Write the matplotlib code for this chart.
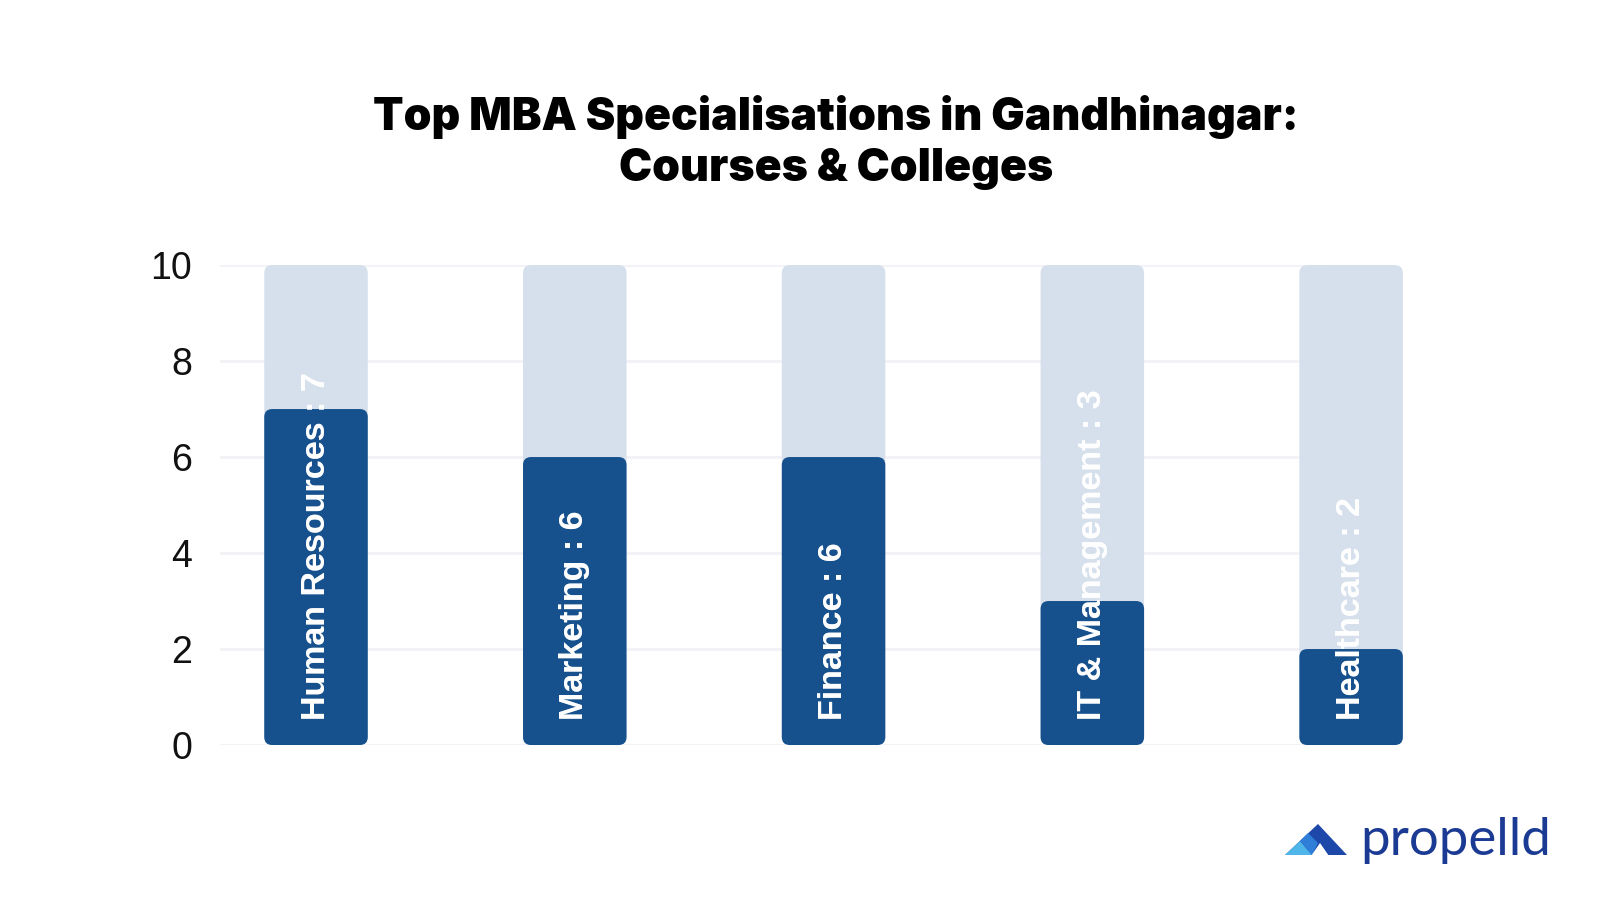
import matplotlib
matplotlib.use("Agg")
import matplotlib.pyplot as plt
from matplotlib.patches import FancyBboxPatch, Polygon

categories = ["Human Resources", "Marketing", "Finance", "IT & Management", "Healthcare"]
values = [7, 6, 6, 3, 2]
max_value = 10
yticks = [0, 2, 4, 6, 8, 10]

DARK = "#16518d"
LIGHT = "#d5e0ec"
GRID = "#f2f2f7"

fig = plt.figure(figsize=(16, 9), dpi=100)
fig.patch.set_facecolor("white")
ax = fig.add_axes([0.1375, 0.1722, 0.694, 0.5333])
ax.set_facecolor("none")

x = list(range(len(categories)))
bw = 0.40
ax.set_xlim(-0.371, 3.92)
ax.set_ylim(0, 10)

for y in yticks:
    ax.axhline(y, color=GRID, lw=2, zorder=0)

bg = ax.bar(x, [max_value] * len(x), width=bw, color=LIGHT)
fg = ax.bar(x, values, width=bw, color=DARK)

ax_w_px = 0.694 * 1600
ax_h_px = 0.5333 * 900
px_x = ax_w_px / (3.92 + 0.371)
px_y = ax_h_px / 10.0
aspect = px_x / px_y
r = 8 / px_x

def rounded(rect, color, z):
    rect.set_visible(False)
    p = FancyBboxPatch((rect.get_x(), rect.get_y()), rect.get_width(), rect.get_height(),
                       boxstyle=f"round,pad=0,rounding_size={r}", mutation_aspect=aspect,
                       fc=color, ec="none", zorder=z, clip_on=False)
    ax.add_patch(p)
    return p

dark_patches = []
for rb in bg:
    rounded(rb, LIGHT, 1)
for rf in fg:
    dark_patches.append(rounded(rf, DARK, 2))

for i, (c, v) in enumerate(zip(categories, values)):
    label = f"{c} : {v}"
    kw = dict(rotation=90, ha="left", va="center", fontsize=24.5, fontweight="bold",
              family=["Liberation Sans", "DejaVu Sans"], rotation_mode="anchor")
    ax.text(i, 0.52, label, color="white", alpha=0.5, zorder=3, clip_on=False, **kw)
    t2 = ax.text(i, 0.52, label, color="white", zorder=4, **kw)
    t2.set_clip_on(True)
    t2.set_clip_box(None)
    t2.set_clip_path(dark_patches[i])

ax.set_yticks(yticks)
ax.set_yticklabels([str(t) for t in yticks], fontsize=27, family="Liberation Sans", color="#111111")
ax.tick_params(axis="y", length=0, pad=20)
ax.tick_params(axis="x", length=0, labelbottom=False)
for s in ax.spines.values():
    s.set_visible(False)

fig.text(0.5225, 1 - 117 / 900, "Top MBA Specialisations in Gandhinagar:", ha="center", va="center",
         fontsize=32, fontweight="black", family="Inter", color="#000000")
fig.text(0.5225, 1 - 169 / 900, "Courses & Colleges", ha="center", va="center",
         fontsize=32, fontweight="black", family="Inter", color="#000000")

def fx(px):
    return px / 1600
def fy(py):
    return 1 - py / 900
outer = [(fx(1285), fy(855)), (fx(1318), fy(824)), (fx(1347), fy(855))]
fig.patches.append(Polygon(outer, closed=True, fc="#1d47a8", ec="none", transform=fig.transFigure))
left = [(fx(1285), fy(855)), (fx(1300), fy(841)), (fx(1312), fy(855))]
fig.patches.append(Polygon(left, closed=True, fc="#4fb6ea", ec="none", transform=fig.transFigure))
mid = [(fx(1300), fy(841)), (fx(1308), fy(833)), (fx(1318), fy(843)), (fx(1312), fy(855))]
fig.patches.append(Polygon(mid, closed=True, fc="#2f7fd8", ec="none", transform=fig.transFigure))
notch = [(fx(1311), fy(856)), (fx(1320), fy(843)), (fx(1329), fy(856))]
fig.patches.append(Polygon(notch, closed=True, fc="white", ec="none", transform=fig.transFigure))
fig.text(fx(1360), fy(840), "propelld", ha="left", va="center", fontsize=38,
         family="Lato", color="#1b3a93")

fig.savefig("out.png", dpi=100, facecolor="white")
